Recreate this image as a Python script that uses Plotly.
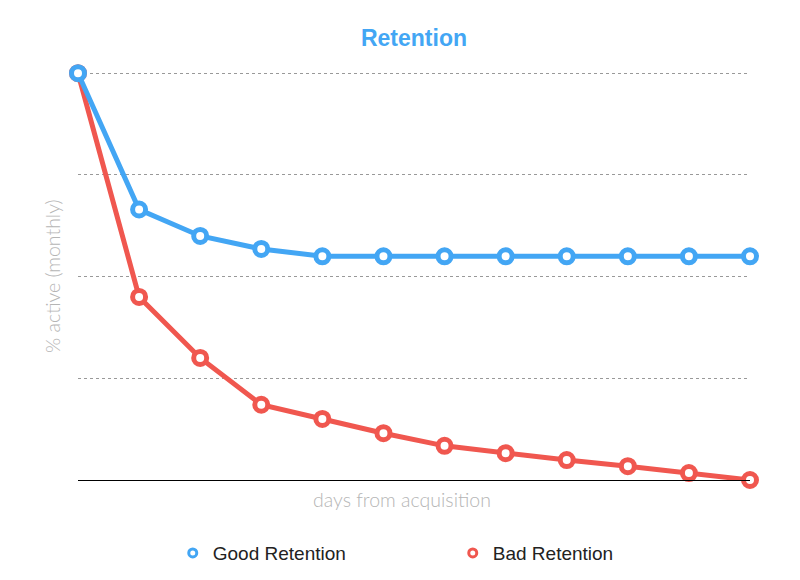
import plotly.graph_objects as go

days = list(range(12))
good_retention = [100, 66.5, 60, 56.8, 55, 55, 55, 55, 55, 55, 55, 55]
bad_retention = [100, 45, 30, 18.5, 15, 11.5, 8.4, 6.6, 4.9, 3.4, 1.7, 0]

BLUE = "#43A6F4"
RED = "#F0574F"

series = [("Good Retention", good_retention, BLUE), ("Bad Retention", bad_retention, RED)]

fig = go.Figure()
# draw bad first so good sits on top
for name, vals, col in reversed(series):
    fig.add_trace(go.Scatter(
        x=days, y=vals, mode="lines+markers", name=name, showlegend=False,
        line=dict(color=col, width=5),
        marker=dict(symbol="circle", size=13, color="white", line=dict(color=col, width=5)),
        cliponaxis=False,
    ))
for name, vals, col in series:
    fig.add_trace(go.Scatter(
        x=[None], y=[None], mode="markers", name=name,
        marker=dict(symbol="circle", size=8, color="white", line=dict(color=col, width=3)),
    ))

axis_font = dict(family="Lato", size=19.5, color="#b5b5b5", weight=300)

fig.update_layout(
    width=792, height=572,
    margin=dict(l=70, r=50, t=64, b=100, autoexpand=False),
    plot_bgcolor="white", paper_bgcolor="white",
    title=dict(text="<b>Retention</b>", x=0.5, xref="paper", xanchor="center", y=1 - 30/572, yanchor="middle",
               font=dict(family="Liberation Sans, Arial", size=23, color=BLUE)),
    xaxis=dict(range=[0, 11], showgrid=False, zeroline=False, showticklabels=False, ticks="",
               showline=True, linecolor="black", linewidth=1.2),
    yaxis=dict(range=[0, 100.3], tickvals=[0, 25, 50, 75, 100], showticklabels=False, ticks="",
               showgrid=True, gridcolor="#999999", griddash="dot", gridwidth=1, zeroline=False),
    annotations=[
        dict(text="days from acquisition", x=0.482, y=-0.049, xref="paper", yref="paper",
             xanchor="center", yanchor="middle", showarrow=False, font=axis_font),
        dict(text="% active (monthly)", x=-0.0387, y=0.5, xref="paper", yref="paper", textangle=-90,
             xanchor="center", yanchor="middle", showarrow=False, font=axis_font),
    ],
    legend=dict(orientation="h", x=0.141, xanchor="left", y=-0.179, yanchor="middle",
                entrywidth=235, entrywidthmode="pixels",
                font=dict(family="Liberation Sans, Arial", size=19, color="#222222")),
)

fig.write_html("out.html")
